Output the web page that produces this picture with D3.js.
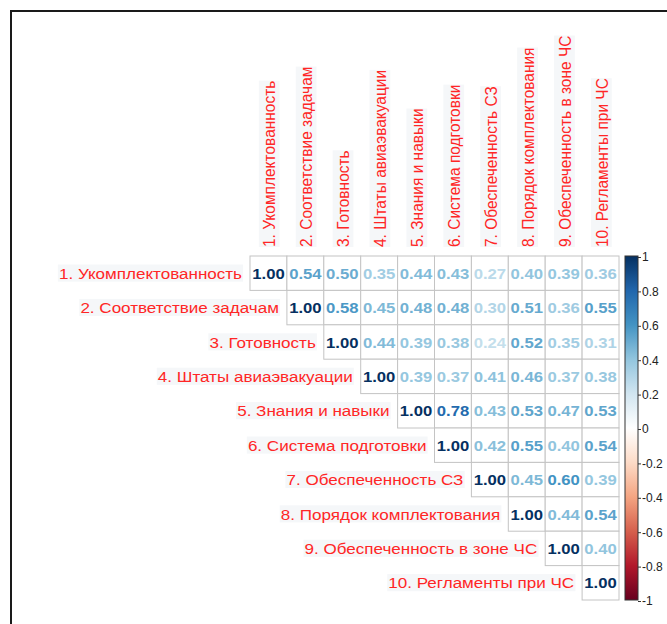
<!DOCTYPE html>
<html><head><meta charset="utf-8">
<script src="https://cdn.jsdelivr.net/npm/d3@7"></script>
<style>
html,body{margin:0;padding:0;background:#fff;}
svg{display:block;font-family:"Liberation Sans",Arial,sans-serif;}
</style></head>
<body>
<svg id="chart" width="667" height="624"></svg>
<script>
const labels = [
  "1. Укомплектованность",
  "2. Соответствие задачам",
  "3. Готовность",
  "4. Штаты авиаэвакуации",
  "5. Знания и навыки",
  "6. Система подготовки",
  "7. Обеспеченность СЗ",
  "8. Порядок комплектования",
  "9. Обеспеченность в зоне ЧС",
  "10. Регламенты при ЧС"
];
// upper triangle, row i starts at column i
const row1  = [1.00, 0.54, 0.50, 0.35, 0.44, 0.43, 0.27, 0.40, 0.39, 0.36];
const row2  = [1.00, 0.58, 0.45, 0.48, 0.48, 0.30, 0.51, 0.36, 0.55];
const row3  = [1.00, 0.44, 0.39, 0.38, 0.24, 0.52, 0.35, 0.31];
const row4  = [1.00, 0.39, 0.37, 0.41, 0.46, 0.37, 0.38];
const row5  = [1.00, 0.78, 0.43, 0.53, 0.47, 0.53];
const row6  = [1.00, 0.42, 0.55, 0.40, 0.54];
const row7  = [1.00, 0.45, 0.60, 0.39];
const row8  = [1.00, 0.44, 0.54];
const row9  = [1.00, 0.40];
const row10 = [1.00];
const rows = [row1,row2,row3,row4,row5,row6,row7,row8,row9,row10];
const legendTicks = [1, 0.8, 0.6, 0.4, 0.2, 0, -0.2, -0.4, -0.6, -0.8, -1];
const paletteColors = ["#67001F","#B2182B","#D6604D","#F4A582","#FDDBC7","#FFFFFF","#D1E5F0","#92C5DE","#4393C3","#2166AC","#053061"];

const svg = d3.select("#chart");
const SX = 1.075;   // horizontal stretch of numbers
const SXL = 1.1;    // horizontal stretch of labels

// frame
svg.append("rect").attr("x",11).attr("y",11).attr("width",700).attr("height",700)
  .attr("fill","none").attr("stroke","#1a1a1a").attr("stroke-width",2);

const n = labels.length;
const x = d3.scaleBand().domain(d3.range(n)).range([250, 619]).padding(0);
const y = d3.scaleBand().domain(d3.range(n)).range([256, 600]).padding(0);
const color = d3.scaleLinear().domain(d3.range(11).map(i => -1 + i*0.2)).range(paletteColors);

const cells = [];
rows.forEach((r,i) => r.forEach((v,k) => cells.push({i, j:i+k, v})));

const g = svg.append("g");
g.selectAll("rect.cell").data(cells).join("rect").attr("class","cell")
  .attr("x", d => x(d.j)).attr("y", d => y(d.i))
  .attr("width", x.bandwidth()).attr("height", y.bandwidth())
  .attr("fill","#fff").attr("stroke","#c4c4c4").attr("stroke-width",1);

g.selectAll("text.num").data(cells).join("text").attr("class","num")
  .attr("transform", d => `translate(${x(d.j)+x.bandwidth()/2},${y(d.i)+y.bandwidth()/2}) scale(${SX},1)`)
  .attr("text-anchor","middle").attr("dy","0.36em")
  .attr("font-size",15.5).attr("font-weight","bold")
  .attr("fill", d => color(d.v))
  .text(d => d.v.toFixed(2));

// row labels
const rl = svg.append("g");
labels.forEach((lab,i) => {
  const t = rl.append("g").attr("transform", `translate(${x(i)-8},${y(i)+y.bandwidth()/2}) scale(${SXL},1)`);
  const txt = t.append("text").attr("text-anchor","end").attr("dy","0.36em")
    .attr("font-size",15.5).attr("fill","#ff2626").text(lab);
  const bb = txt.node().getBBox();
  t.insert("rect","text").attr("x",bb.x-1).attr("y",bb.y).attr("width",bb.width+2).attr("height",bb.height)
    .attr("fill","#f5f7f9");
});
// column labels
labels.forEach((lab,j) => {
  const t = rl.append("g").attr("transform", `translate(${x(j)+x.bandwidth()/2+1},${y(0)-9}) scale(${SX},1) rotate(-90)`);
  const txt = t.append("text").attr("text-anchor","start").attr("dy","0.36em")
    .attr("font-size",15.5).attr("fill","#ff2626").text(lab);
  const bb = txt.node().getBBox();
  t.insert("rect","text").attr("x",bb.x).attr("y",bb.y-1).attr("width",bb.width).attr("height",bb.height+2)
    .attr("fill","#f5f7f9");
});

// colour legend
const lx = 625, lw = 13, ly0 = 256, ly1 = 600;
const defs = svg.append("defs");
const grad = defs.append("linearGradient").attr("id","cbar").attr("x1",0).attr("y1",1).attr("x2",0).attr("y2",0);
paletteColors.forEach((c,i) => grad.append("stop").attr("offset", i/10).attr("stop-color", c));
svg.append("rect").attr("x",lx).attr("y",ly0).attr("width",lw).attr("height",ly1-ly0)
  .attr("fill","url(#cbar)").attr("stroke","#333").attr("stroke-width",1);
const ly = d3.scaleLinear().domain([-1,1]).range([601,257]);
const axis = d3.axisRight(ly).tickValues(legendTicks).tickSize(3).tickPadding(1)
  .tickFormat(d => String(d));
const ag = svg.append("g").attr("transform",`translate(${lx+lw},0)`).call(axis);
ag.select(".domain").remove();
ag.selectAll("text").attr("font-size",12).attr("fill","#222").attr("font-family","\"Liberation Sans\",Arial,sans-serif");
ag.selectAll("line").attr("stroke","#333");
</script>
</body></html>
